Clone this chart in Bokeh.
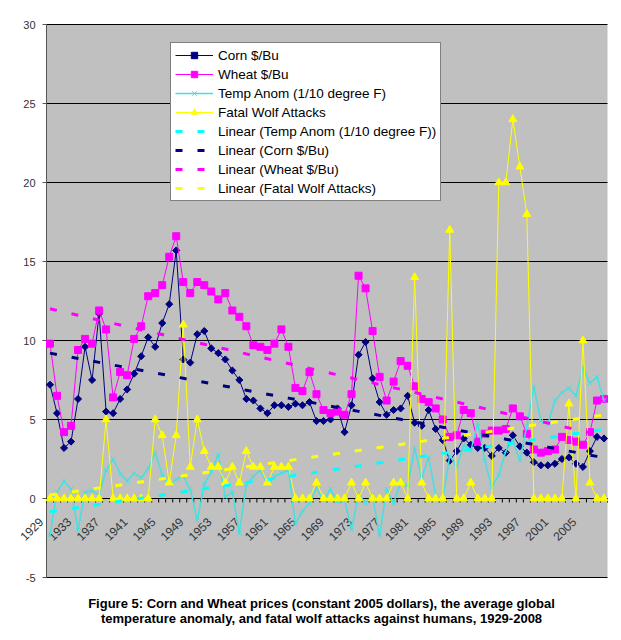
import numpy as np
from bokeh.plotting import figure
from bokeh.models import Range1d, Legend, LegendItem, ColumnDataSource
from bokeh.core.properties import value
from bokeh.embed import file_html
from bokeh.resources import INLINE

years = list(range(1929, 2009))

corn = [7.2, 5.4, 3.2, 3.6, 6.3, 9.6, 7.5, 11.7, 5.5, 5.4,
        6.3, 6.9, 7.9, 9.0, 10.2, 9.6, 11.1, 12.3, 15.7, 8.8,
        8.6, 10.4, 10.6, 9.5, 9.2, 8.8, 8.1, 7.5, 6.3, 6.2,
        5.7, 5.4, 5.9, 5.9, 5.8, 6.0, 5.9, 6.1, 4.9, 4.9,
        5.0, 5.7, 4.2, 5.9, 9.1, 9.9, 7.6, 6.1, 5.3, 5.6,
        5.7, 6.5, 4.8, 4.6, 5.6, 4.4, 3.7, 2.4, 3.0, 3.8,
        3.4, 3.2, 3.2, 2.7, 3.2, 2.9, 4.0, 3.3, 2.9, 2.3,
        2.1, 2.1, 2.2, 2.5, 2.6, 2.2, 2.0, 3.0, 3.9, 3.8]

wheat = [9.8, 6.5, 4.2, 4.6, 9.4, 10.1, 9.8, 11.9, 10.7, 6.4,
         8.0, 7.8, 10.1, 10.9, 12.8, 13.0, 13.5, 15.3, 16.6, 13.7,
         13.0, 13.7, 13.5, 13.1, 12.6, 13.0, 11.9, 11.5, 10.9, 9.7,
         9.6, 9.4, 9.8, 10.7, 9.6, 7.0, 6.8, 8.0, 6.6, 5.6,
         5.4, 5.5, 5.3, 6.6, 14.1, 13.3, 10.6, 7.7, 6.2, 7.4,
         8.7, 8.4, 7.1, 6.3, 6.1, 5.7, 5.0, 3.9, 4.0, 5.6,
         5.4, 3.6, 4.1, 4.3, 4.3, 4.4, 5.7, 5.2, 4.1, 3.1,
         2.9, 3.0, 3.1, 3.9, 3.7, 3.6, 3.4, 4.2, 6.2, 6.3]

temp = [-2.3, 0.4, 1.1, 0.6, -2.0, 0.4, 0.5, 0.2, 1.8, 2.5,
        1.6, 1.1, 1.6, 1.3, 1.9, 2.9, 1.5, 0.9, 1.2, 1.4,
        0.6, -1.4, 0.9, 1.7, 2.8, 0.1, 0.4, -2.2, 0.9, 1.4,
        1.8, 0.9, 1.4, 1.6, 1.8, -1.6, -0.8, -0.3, 0.7, -0.1,
        0.6, -0.2, -0.1, -2.0, 0.3, -0.3, 0.2, -2.4, 0.6, -0.3,
        1.0, 0.8, 3.2, 1.3, 2.6, 0.2, -0.1, 2.7, 2.0, 3.4,
        3.0, 4.8, 2.4, 0.7, 1.5, 3.0, 3.7, 2.4, 4.6, 7.1,
        4.9, 4.7, 6.2, 6.7, 7.0, 6.5, 8.3, 7.3, 7.7, 6.2]

wolf = [0, 0, 0, 0, 0, 0, 0, 0, 5, 0,
        0, 0, 0, 0, 0, 5, 4, 1, 4, 11,
        2, 5, 3, 2, 2, 1, 2, 1, 3, 2,
        2, 1, 2, 2, 2, 0, 0, 0, 1, 0,
        0, 0, 0, 1, 0, 1, 0, 0, 0, 1,
        1, 0, 14, 1, 0, 0, 0, 17, 0, 0,
        1, 0, 0, 0, 20, 20, 24, 21, 18, 0,
        0, 0, 0, 0, 6, 0, 10, 1, 0, 0]

tick_years = years[::4]
y_ticks = [-5, 0, 5, 10, 15, 20, 25, 30]

caption = ["Figure 5: Corn and Wheat prices (constant 2005 dollars), the average global",
           "temperature anomaly, and fatal wolf attacks against humans, 1929-2008"]

FONT = "Liberation Sans"
NAVY = "#000080"
MAGENTA = "#ff00ff"
CYAN = "#44e0e0"
YELLOW = "#ffff00"

W, H = 621, 640
# pixel box of the grey plot area
PL, PR, PT, PB = 46, 607, 24, 577
n = len(years)
xmin, xmax = -0.5, n - 0.5
ymin, ymax = y_ticks[0], y_ticks[-1]
sx = (PR - PL) / (xmax - xmin)
sy = (PB - PT) / (ymax - ymin)


def px_x(px):
    return xmin + (px - PL) / sx


def py_y(py):
    return ymax - (py - PT) / sy


x = np.arange(n)


def trend(vals):
    k, b = np.polyfit(x, vals, 1)
    return k * x + b


src = ColumnDataSource(dict(
    x=x, corn=corn, wheat=wheat, temp=temp, wolf=wolf,
    corn_t=trend(corn), wheat_t=trend(wheat), temp_t=trend(temp), wolf_t=trend(wolf),
))

# the frame covers the whole canvas; the plot area is drawn inside it
p = figure(width=W, height=H, x_range=Range1d(px_x(0), px_x(W)),
           y_range=Range1d(py_y(H), py_y(0)), x_axis_type=None, y_axis_type=None,
           toolbar_location=None, output_backend="svg",
           background_fill_color="white", border_fill_color="white",
           outline_line_color=None,
           min_border_left=0, min_border_right=0, min_border_top=0, min_border_bottom=0)
p.grid.visible = False

p.quad(left=xmin, right=xmax, bottom=ymin, top=ymax, fill_color="#c0c0c0", line_color=None)
p.segment(x0=[xmin] * len(y_ticks), x1=[xmax] * len(y_ticks), y0=y_ticks, y1=y_ticks,
          line_color="black", line_width=1)

# value axis
p.segment(x0=[xmin], x1=[xmin], y0=[ymin], y1=[ymax], line_color="#555555", line_width=1)
p.segment(x0=[xmin] * len(y_ticks), x1=[xmin - 4 / sx] * len(y_ticks), y0=y_ticks, y1=y_ticks,
          line_color="#555555", line_width=1)
p.text(x=[xmin] * len(y_ticks), y=y_ticks, text=[str(t) for t in y_ticks],
       text_align="right", text_baseline="middle", x_offset=-11,
       text_font=value(FONT), text_font_size="11px", text_color="#333333")

# category axis drawn at y = 0, as in the spreadsheet chart
edges = [i - 0.5 for i in range(n + 1)]
p.segment(x0=[xmin], x1=[xmax], y0=[0], y1=[0], line_color="black", line_width=1)
p.segment(x0=edges, y0=[0] * len(edges), x1=edges, y1=[-4 / sy] * len(edges),
          line_color="black", line_width=1)
p.text(x=[years.index(y) for y in tick_years], y=[0] * len(tick_years),
       text=[str(y) for y in tick_years], angle=np.pi / 4,
       text_align="right", text_baseline="middle", x_offset=-9, y_offset=21,
       text_font=value(FONT), text_font_size="12px", text_color="#333333")

# series
corn_l = p.line("x", "corn", source=src, line_color=NAVY, line_width=1)
corn_m = p.scatter("x", "corn", source=src, marker="square", angle=np.pi / 4, size=5,
                   fill_color=NAVY, line_color=NAVY)
wheat_l = p.line("x", "wheat", source=src, line_color=MAGENTA, line_width=1)
wheat_m = p.scatter("x", "wheat", source=src, marker="square", size=7,
                    fill_color=MAGENTA, line_color=MAGENTA)
temp_l = p.line("x", "temp", source=src, line_color=CYAN, line_width=1.5)
temp_m = p.scatter("x", "temp", source=src, marker="x", size=6, line_color=CYAN)
wolf_l = p.line("x", "wolf", source=src, line_color=YELLOW, line_width=1)
wolf_m = p.scatter("x", "wolf", source=src, marker="triangle", size=8,
                   fill_color=YELLOW, line_color=YELLOW)

# linear trend lines
DASH = "7 15"
temp_t = p.line("x", "temp_t", source=src, line_color="#00ffff", line_width=3, line_dash=DASH)
corn_t = p.line("x", "corn_t", source=src, line_color=NAVY, line_width=3, line_dash=DASH)
wheat_t = p.line("x", "wheat_t", source=src, line_color=MAGENTA, line_width=3, line_dash=DASH)
wolf_t = p.line("x", "wolf_t", source=src, line_color=YELLOW, line_width=3, line_dash=DASH)

legend = Legend(items=[
    LegendItem(label="Corn $/Bu", renderers=[corn_l, corn_m]),
    LegendItem(label="Wheat $/Bu", renderers=[wheat_l, wheat_m]),
    LegendItem(label="Temp Anom (1/10 degree F)", renderers=[temp_l, temp_m]),
    LegendItem(label="Fatal Wolf Attacks", renderers=[wolf_l, wolf_m]),
    LegendItem(label="Linear (Temp Anom (1/10 degree F))", renderers=[temp_t]),
    LegendItem(label="Linear (Corn $/Bu)", renderers=[corn_t]),
    LegendItem(label="Linear (Wheat $/Bu)", renderers=[wheat_t]),
    LegendItem(label="Linear (Fatal Wolf Attacks)", renderers=[wolf_t]),
], location=(170, H - 201), margin=0, padding=4, spacing=3,
    glyph_width=38, glyph_height=16, label_height=16, label_standoff=5,
    label_text_font=FONT, label_text_font_size="13.5px", label_text_color="black",
    border_line_color="black", border_line_width=1,
    background_fill_color="white", background_fill_alpha=1)
p.add_layout(legend)

# figure caption under the chart
p.text(x=[px_x(321)] * 2, y=[py_y(603), py_y(618)], text=caption,
       text_align="center", text_baseline="middle",
       text_font=value(FONT), text_font_size="13px", text_font_style="bold",
       text_color="black")

open("out.html", "w").write(file_html(p, INLINE))
